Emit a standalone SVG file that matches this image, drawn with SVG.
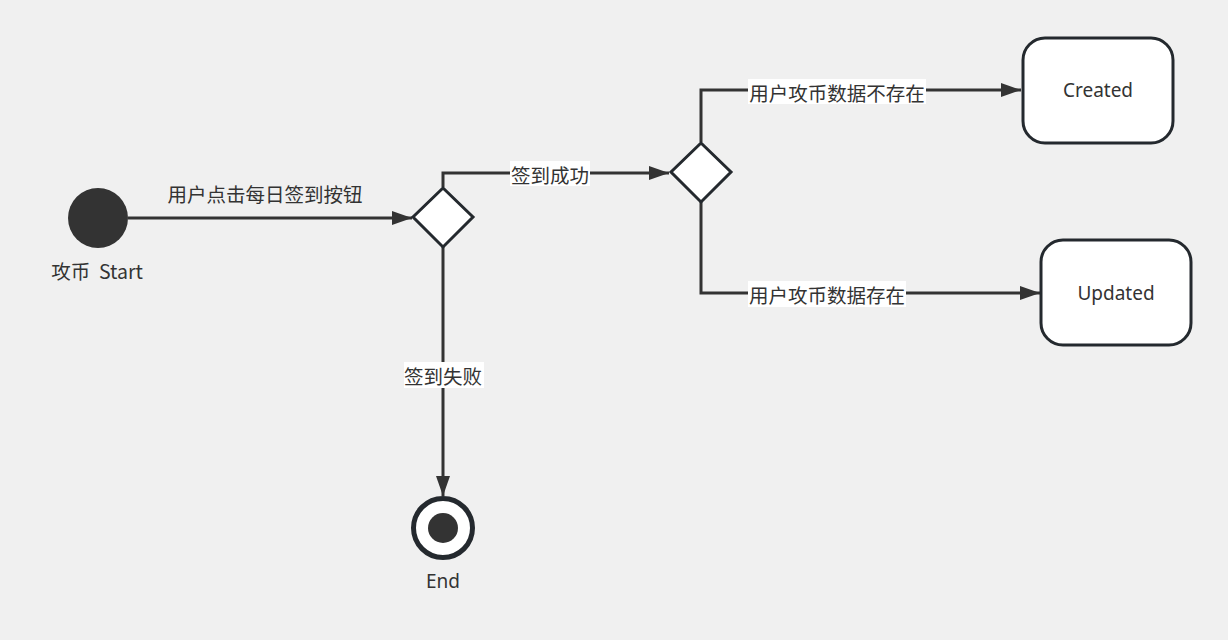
<svg xmlns="http://www.w3.org/2000/svg" width="1228" height="640" viewBox="0 0 1228 640">
<defs>
<marker id="arr" viewBox="0 0 20 14" refX="20" refY="7" markerWidth="20" markerHeight="14" markerUnits="userSpaceOnUse" orient="auto">
<path d="M0,0 L20,7 L0,14 Z" fill="#333333"/>
</marker>
<style>
.t{font-family:"Microsoft YaHei","Noto Sans CJK SC","Noto Sans",sans-serif;font-size:19.5px;fill:#333333;text-anchor:middle;dominant-baseline:central}
.e{font-family:"Noto Sans","Noto Sans CJK SC",sans-serif;font-size:19px;fill:#333333;text-anchor:middle;dominant-baseline:central}
.ln{fill:none;stroke:#333333;stroke-width:3}
.dm{fill:#ffffff;stroke:#24292e;stroke-width:3;stroke-linejoin:miter}
.bx{fill:#ffffff;stroke:#24292e;stroke-width:3}
.lb{fill:#ffffff}
</style>
</defs>
<rect x="0" y="0" width="1228" height="640" fill="#f0f0f0"/>
<g id="connectors">
<path class="ln" d="M128,218 L412,218" marker-end="url(#arr)"/>
<text class="t" x="265" y="193">用户点击每日签到按钮</text>
<path class="ln" d="M443,187 L443,173 L669,173" marker-end="url(#arr)"/>
<rect class="lb" x="510" y="161" width="80" height="25"/>
<text class="t" x="550" y="174">签到成功</text>
<path class="ln" d="M701,142 L701,90 L1021,90" marker-end="url(#arr)"/>
<rect class="lb" x="748" y="79" width="178" height="25"/>
<text class="t" x="837" y="92">用户攻币数据不存在</text>
<path class="ln" d="M701,202 L701,293 L1040,293" marker-end="url(#arr)"/>
<rect class="lb" x="748" y="281" width="158" height="26"/>
<text class="t" x="827" y="294">用户攻币数据存在</text>
<path class="ln" d="M443,247 L443,496" marker-end="url(#arr)"/>
<rect class="lb" x="404" y="362" width="80" height="26"/>
<text class="t" x="443" y="375">签到失败</text>
</g>
<g id="start">
<circle cx="98" cy="218" r="30" fill="#333333"/>
<text class="t" x="97" y="270" xml:space="preserve" style="white-space:pre">攻币  Start</text>
</g>
<g id="decision1">
<path class="dm" d="M443,188 L473,217 L443,247 L413,217 Z"/>
</g>
<g id="decision2">
<path class="dm" d="M701,143 L731,172 L701,202 L671,172 Z"/>
</g>
<g id="created">
<rect class="bx" x="1023" y="38" width="150" height="105" rx="22"/>
<text class="e" x="1098" y="90">Created</text>
</g>
<g id="updated">
<rect class="bx" x="1041" y="240" width="150" height="105" rx="22"/>
<text class="e" x="1116" y="293">Updated</text>
</g>
<g id="end">
<circle cx="443" cy="528" r="29.5" fill="#ffffff" stroke="#24292e" stroke-width="5"/>
<circle cx="443" cy="528" r="15" fill="#333333"/>
<text class="e" x="443" y="581">End</text>
</g>
</svg>
